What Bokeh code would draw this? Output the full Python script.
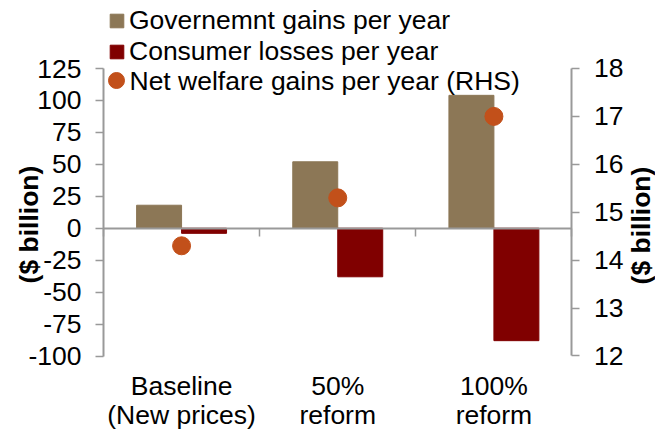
import math
import numpy as np
from bokeh.plotting import figure
from bokeh.models import (Range1d, LinearAxis, FixedTicker, ColumnDataSource,
                          Legend, LegendItem, LabelSet, Label)
from bokeh.transform import dodge
from bokeh.core.properties import value
from bokeh.embed import file_html
from bokeh.resources import INLINE

# ---- data ----
categories = ["Baseline\n(New prices)", "50%\nreform", "100%\nreform"]
gov_gains = [18, 52, 104]
consumer_losses = [-4, -38, -88]
net_welfare = [14.3, 15.3, 17.0]
left_ticks = [-100, -75, -50, -25, 0, 25, 50, 75, 100, 125]
right_ticks = [12, 13, 14, 15, 16, 17, 18]
series_names = ["Governemnt gains per year", "Consumer losses per year",
                "Net welfare gains per year (RHS)"]

# ---- style ----
GOV = "#8C7756"
CON = "#800000"
NET = "#C2501A"
AXC = "#999999"
FONT = "Liberation Sans"
FS = "26.5px"
W, H = 655, 430

# view ranges (frame spans the whole canvas; axes are bounded to the data ranges)
X_VIEW = (-0.6595, 3.5347)
Y_VIEW = (-158.30, 178.22)
R_VIEW = (10.445, 19.419)

n = len(categories)
x = np.arange(n) + 0.5
line1 = [c.split("\n")[0] for c in categories]
line2 = [c.split("\n")[1] for c in categories]
src = ColumnDataSource(dict(x=x, gov=gov_gains, con=consumer_losses,
                            net=net_welfare, l1=line1, l2=line2))

p = figure(width=W, height=H, output_backend="svg", toolbar_location=None,
           x_range=Range1d(*X_VIEW), y_range=Range1d(*Y_VIEW),
           min_border=0, min_border_left=0, min_border_right=0,
           min_border_top=0, min_border_bottom=0)
p.outline_line_color = None
p.xgrid.visible = False
p.ygrid.visible = False
p.background_fill_color = "white"
p.border_fill_color = "white"
p.extra_y_ranges = {"rhs": Range1d(*R_VIEW)}

bar_w = 0.288
r_gov = p.vbar(x=dodge("x", -bar_w / 2), top="gov", bottom=0, width=bar_w, source=src,
               fill_color=GOV, line_color=GOV)
r_con = p.vbar(x=dodge("x", bar_w / 2), top="con", bottom=0, width=bar_w, source=src,
               fill_color=CON, line_color=CON)
r_net = p.scatter(x="x", y="net", size=18, source=src, y_range_name="rhs",
                  fill_color=NET, line_color=NET)

def style_axis(ax):
    ax.axis_line_color = AXC
    ax.axis_line_width = 2
    ax.major_tick_line_color = AXC
    ax.major_tick_line_width = 1.5
    ax.major_tick_in = 0
    ax.major_tick_out = 8
    ax.minor_tick_line_color = None
    ax.major_label_text_font = FONT
    ax.major_label_text_font_size = FS
    ax.major_label_text_color = "black"
    ax.major_label_standoff = 14

# x axis along zero with ticks at category boundaries
xa = p.xaxis[0]
style_axis(xa)
xa.ticker = FixedTicker(ticks=list(range(n + 1)))
xa.fixed_location = 0
xa.bounds = (0, n)
xa.major_label_overrides = {i: "" for i in range(n + 1)}

# left axis
ya = p.yaxis[0]
style_axis(ya)
ya.ticker = FixedTicker(ticks=left_ticks)
ya.fixed_location = 0
ya.bounds = (left_ticks[0], left_ticks[-1])
ya.major_label_overrides = {t: str(t) for t in left_ticks}

# right axis
ra = LinearAxis(y_range_name="rhs", ticker=FixedTicker(ticks=right_ticks))
style_axis(ra)
ra.fixed_location = n
ra.bounds = (right_ticks[0], right_ticks[-1])
p.add_layout(ra, "right")

# axis titles
for xpos, ypos in ((-0.48, 2.9), (3.445, 2.1)):
    p.add_layout(Label(x=xpos, y=ypos, text="($ billion)", angle=math.pi / 2,
                       text_align="center", text_baseline="middle",
                       text_font=FONT, text_font_size=FS,
                       text_font_style="bold", text_color="black"))

# category labels below the plot
for col, ypos in (("l1", -123.7), ("l2", -146.5)):
    p.add_layout(LabelSet(x="x", y=ypos, text=col, source=src,
                          text_align="center", text_baseline="middle",
                          text_font=value(FONT), text_font_size=FS, text_color="black"))

# legend
common = dict(spacing=0, padding=0, margin=0, border_line_color=None,
              background_fill_alpha=0, label_text_font=FONT,
              label_text_font_size=FS, label_text_color="black", label_height=29)
leg1 = Legend(items=[LegendItem(label=series_names[0], renderers=[r_gov]),
                     LegendItem(label=series_names[1], renderers=[r_con])],
              location=(108, 363), glyph_width=17, glyph_height=17, label_standoff=4, **common)
leg2 = Legend(items=[LegendItem(label=" ", renderers=[r_net])],
              location=(96, 330), glyph_width=40, glyph_height=40, label_standoff=0, **common)
p.add_layout(leg1, "center")
p.add_layout(leg2, "center")
p.add_layout(Label(x=0.1665, y=115.6, text=series_names[2],
                   text_align="left", text_baseline="middle",
                   text_font=FONT, text_font_size=FS, text_color="black"))

open("out.html", "w").write(file_html(p, INLINE))
